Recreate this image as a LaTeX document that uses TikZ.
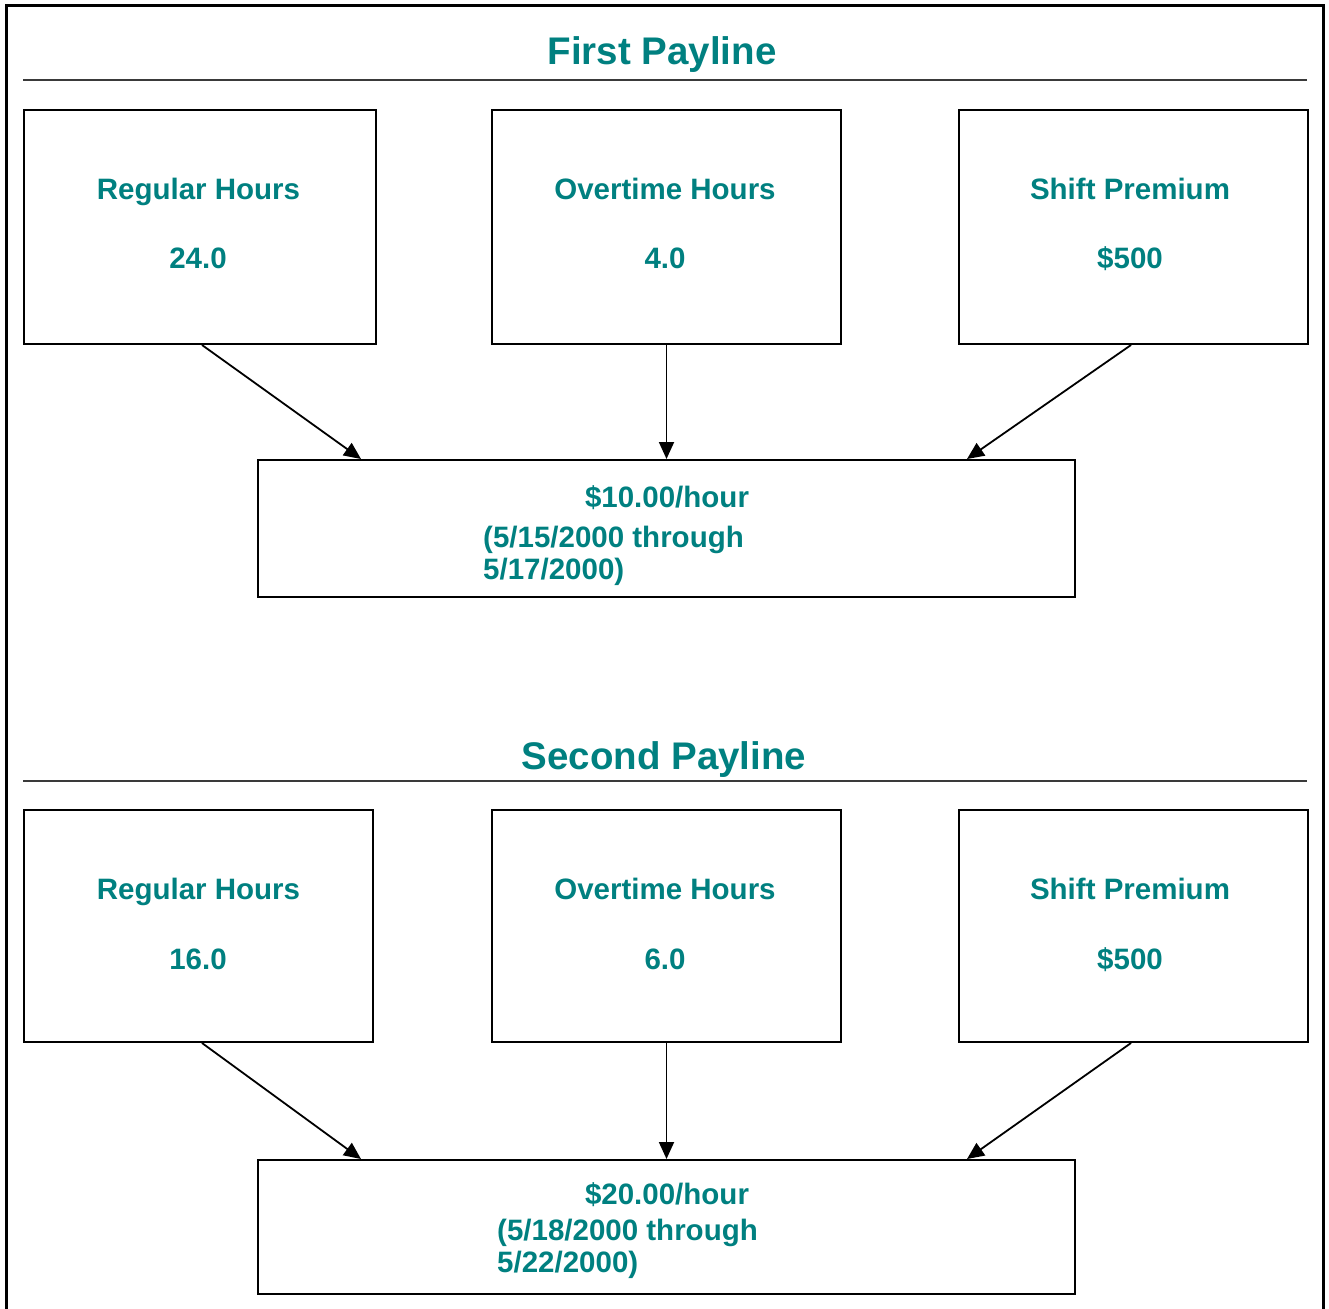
\documentclass[tikz,border=0pt]{standalone}
\usepackage{fontspec}
\setmainfont{Liberation Sans}
\usetikzlibrary{calc,arrows.meta}
\definecolor{payteal}{HTML}{008080}
\definecolor{rulegray}{HTML}{3A3A3A}
\begin{document}
\begin{tikzpicture}[x=1pt,y=-1pt,
  frameline/.style={line width=3pt,black},
  rulestyle/.style={line width=2.2pt,rulegray},
  box/.style={draw=black,line width=2pt,rectangle,inner sep=0pt},
  title/.style={text=payteal,font=\fontsize{38.5}{46}\selectfont\bfseries,anchor=base,inner sep=0pt},
  lbl/.style={text=payteal,font=\fontsize{29.5}{35}\selectfont\bfseries,anchor=base,inner sep=0pt},
  lblw/.style={lbl,anchor=base west},
  conn/.style={line width=1.8pt,black,-{Triangle[length=17pt,width=15pt]}}]
\useasboundingbox (0,0) rectangle (1329,1308);

% outer frame, open at the bottom
\draw[frameline] (6,1310) -- (6,6) -- (1323,6) -- (1323,1310);

% ---------- first payline ----------
\node[title] (t1) at (662,65) {First Payline};
\coordinate (t1l) at (23,80);
\coordinate (t1r) at (1307,80);
\draw[rulestyle] (t1l) -- (t1r);

\node[box,minimum width=352pt,minimum height=234pt] (r1) at (200,227) {};
\node[box,minimum width=349pt,minimum height=234pt] (o1) at (666.5,227) {};
\node[box,minimum width=349pt,minimum height=234pt] (s1) at (1133.5,227) {};
\node[box,minimum width=817pt,minimum height=137pt] (p1) at (666.5,528.5) {};

\node[lbl] (r1a) at (198.5,199) {Regular Hours};
\node[lbl] (r1b) at (198,268) {24.0};
\node[lbl] (o1a) at (665,199) {Overtime Hours};
\node[lbl] (o1b) at (665,268) {4.0};
\node[lbl] (s1a) at (1130,199) {Shift Premium};
\node[lbl] (s1b) at (1130,268) {\$500};

\node[lbl] (p1a) at (667,507) {\$10.00/hour};
\node[lblw] (p1b) at (483,547) {(5/15/2000 through};
\node[lblw] (p1c) at (483,579) {5/17/2000)};

\draw[conn] ($(r1.south)+(2,0)$) -- ($(p1.north west)+(104,0)$);
\draw[conn] (o1.south) -- (p1.north);
\draw[conn] ($(s1.south)+(-2.5,0)$) -- ($(p1.north west)+(710,0)$);

% ---------- second payline ----------
\node[title] (t2) at (664,769) {Second Payline};
\coordinate (t2l) at (23,781);
\coordinate (t2r) at (1307,781);
\draw[rulestyle] (t2l) -- (t2r);

\node[box,minimum width=349pt,minimum height=232pt] (r2) at (198.5,926) {};
\node[box,minimum width=349pt,minimum height=232pt] (o2) at (666.5,926) {};
\node[box,minimum width=349pt,minimum height=232pt] (s2) at (1133.5,926) {};
\node[box,minimum width=817pt,minimum height=134pt] (p2) at (666.5,1227) {};

\node[lbl] (r2a) at (198.5,899) {Regular Hours};
\node[lbl] (r2b) at (198,969) {16.0};
\node[lbl] (o2a) at (665,899) {Overtime Hours};
\node[lbl] (o2b) at (665,969) {6.0};
\node[lbl] (s2a) at (1130,899) {Shift Premium};
\node[lbl] (s2b) at (1130,969) {\$500};

\node[lbl] (p2a) at (667,1204) {\$20.00/hour};
\node[lblw] (p2b) at (497,1240) {(5/18/2000 through};
\node[lblw] (p2c) at (497,1272) {5/22/2000)};

\draw[conn] ($(r2.south)+(3.5,0)$) -- ($(p2.north west)+(104,0)$);
\draw[conn] (o2.south) -- (p2.north);
\draw[conn] ($(s2.south)+(-2.5,0)$) -- ($(p2.north west)+(710,0)$);
\end{tikzpicture}
\end{document}
